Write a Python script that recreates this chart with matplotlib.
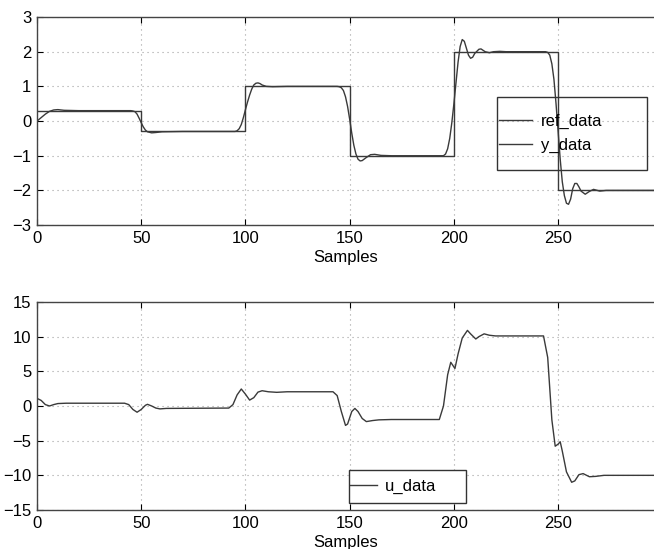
import matplotlib
matplotlib.use("Agg")
import matplotlib.pyplot as plt
from matplotlib.patches import Rectangle

plt.rcParams['font.family'] = ['Liberation Sans', 'DejaVu Sans']
plt.rcParams['font.size'] = 12

# reference steps (level held from each edge to the next)
ref_edges = [0, 50, 100, 150, 200, 250, 296]
ref_levels = [0.3, -0.3, 1, -1, 2, -2, -2]

# plant output
y_x = [0, 2, 4, 6, 8, 10, 13, 20, 45,
       46, 47, 48, 49, 50, 51, 52, 53, 55, 57, 60, 70, 94,
       95, 96, 97, 98, 99, 100, 101, 102, 103, 104, 105, 106, 107, 108, 110, 113, 120, 144,
       145, 146, 147, 148, 149, 150, 151, 152, 153, 154, 155, 156, 158, 160, 162, 165, 170, 194,
       195, 196, 197, 198, 199, 200, 201, 202, 203, 204, 205, 206, 207, 208, 209, 210, 212, 213,
       215, 217, 219, 222, 225, 244,
       245, 246, 247, 248, 249, 250, 251, 252, 253, 254, 255, 256, 257, 258, 259, 260, 261, 263,
       265, 267, 270, 273, 296]
y_data = [0.0, 0.1, 0.2, 0.28, 0.32, 0.33, 0.31, 0.3, 0.3,
          0.29, 0.27, 0.2, 0.08, -0.05, -0.17, -0.26, -0.31, -0.34, -0.33, -0.31, -0.3, -0.3,
          -0.3, -0.28, -0.22, -0.1, 0.1, 0.33, 0.55, 0.75, 0.92, 1.04, 1.09, 1.1, 1.08, 1.04, 1.0, 0.99, 1.0, 1.0,
          0.99, 0.96, 0.88, 0.7, 0.42, 0.05, -0.35, -0.7, -0.95, -1.1, -1.15, -1.14, -1.05, -0.97, -0.96, -0.99, -1.0, -1.0,
          -1.0, -0.95, -0.8, -0.5, -0.05, 0.5, 1.1, 1.7, 2.15, 2.35, 2.3, 2.1, 1.9, 1.81, 1.84, 1.95, 2.07, 2.08,
          2.0, 1.97, 2.0, 2.01, 2.0, 2.0,
          1.98, 1.9, 1.65, 1.2, 0.5, -0.3, -1.1, -1.75, -2.15, -2.37, -2.4, -2.25, -1.95, -1.8, -1.8, -1.9, -2.02, -2.11,
          -2.03, -1.97, -2.02, -2.0, -2.0]

# control input
u_x = [0, 2, 4, 6, 8, 10, 14, 42, 44, 46, 48, 50, 52, 53, 55, 57, 59, 62, 92,
       94, 96, 98, 100, 102, 104, 106, 108, 111, 115, 120, 142,
       144, 146, 148, 149, 151, 152.5, 154, 156, 158, 161, 164, 170, 193,
       195, 197, 198.5, 200.5, 202, 204, 206.5, 208, 210.5, 212, 214.5, 217, 220, 243,
       245, 247, 248.6, 250, 251, 252, 254, 256.5, 258, 260, 262, 265, 268, 272, 296]
u_data = [1.1, 0.8, 0.2, 0.0, 0.2, 0.35, 0.4, 0.4, 0.2, -0.5, -0.9, -0.5, 0.1, 0.24, 0.0, -0.3, -0.42, -0.35, -0.3,
          0.2, 1.6, 2.45, 1.7, 0.85, 1.2, 2.0, 2.2, 2.05, 1.97, 2.05, 2.05,
          1.5, -0.8, -2.8, -2.6, -0.8, -0.35, -0.8, -1.8, -2.25, -2.1, -2.0, -1.95, -1.95,
          0.0, 4.5, 6.3, 5.4, 7.5, 9.8, 10.9, 10.4, 9.66, 10.0, 10.4, 10.2, 10.1, 10.1,
          7.0, -2.0, -5.8, -5.5, -5.15, -6.5, -9.5, -11.0, -10.8, -9.9, -9.75, -10.2, -10.15, -10.0, -10.0]

line_c = '#3a3a3a'
grid_kw = dict(color='#a0a0a0', linestyle=(0, (1, 3.5)), linewidth=0.8)

fig = plt.figure(figsize=(6.54, 5.49), dpi=100)
ax1 = fig.add_axes([0.0566, 0.590, 0.9434, 0.379])
ax2 = fig.add_axes([0.0566, 0.071, 0.9434, 0.379])

ax1.plot(ref_edges, ref_levels, drawstyle='steps-post', color=line_c, lw=1.0, label='ref_data')
ax1.plot(y_x, y_data, color=line_c, lw=1.0, label='y_data')
ax1.set_ylim(-3, 3)
ax1.set_yticks(range(-3, 4))

ax2.plot(u_x, u_data, color=line_c, lw=1.0, label='u_data')
ax2.set_ylim(-15, 15)
ax2.set_yticks(range(-15, 16, 5))

for ax in (ax1, ax2):
    ax.set_xlim(0, 296)
    ax.set_xticks(range(0, 251, 50))
    ax.grid(True, **grid_kw)
    ax.set_xlabel('Samples', labelpad=3)
    ax.tick_params(direction='in', length=4, width=0.8, top=True, pad=4)
    for s in ax.spines.values():
        s.set_color('#444444')
        s.set_linewidth(1.0)
    ax.spines['right'].set_visible(False)

# top legend: transparent box
ax1.add_patch(Rectangle((0.746, 0.264), 0.243, 0.351, transform=ax1.transAxes,
                        fill=False, edgecolor='#333333', lw=1.0, zorder=5))
ax1.legend(loc='center left', bbox_to_anchor=(0.749, 0.44), frameon=False,
           handlelength=2.0, handletextpad=0.5, labelspacing=0.5, borderpad=0.0,
           borderaxespad=0)

# bottom legend: white box
ax2.add_patch(Rectangle((0.506, 0.034), 0.19, 0.158, transform=ax2.transAxes,
                        facecolor='white', edgecolor='#333333', lw=1.0, zorder=5))
leg2 = ax2.legend(loc='center left', bbox_to_anchor=(0.508, 0.113), frameon=False,
                  handlelength=1.6, handletextpad=0.45, borderpad=0.0, borderaxespad=0)
leg2.set_zorder(6)

fig.savefig('out.png', dpi=100)
